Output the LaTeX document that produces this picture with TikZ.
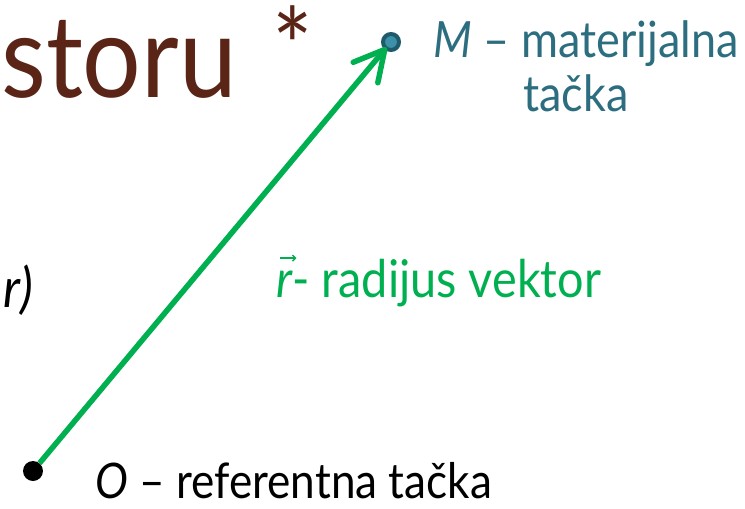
\documentclass[tikz,border=0pt]{standalone}
\usepackage{fontspec}
\setmainfont[FakeStretch=0.9]{Lato}
\usetikzlibrary{arrows.meta}
\definecolor{titlebrown}{HTML}{5A2417}
\definecolor{tealtext}{HTML}{2C6E7F}
\definecolor{vecgreen}{HTML}{00B050}
\definecolor{mfill}{HTML}{3D90AA}
\definecolor{mborder}{HTML}{1F5A6B}
\tikzset{
  lbl/.style={inner sep=0pt, anchor=base west},
  pt/.style={circle, inner sep=0pt},
}
\begin{document}
\begin{tikzpicture}[x=1pt,y=-1pt]
\useasboundingbox (0,0) rectangle (745,509);
\node[lbl, text=titlebrown, font=\fontsize{115}{118}\selectfont] (title) at (1,97) {storu};
\node[lbl, text=titlebrown, font=\fontsize{106}{106}\selectfont] (star) at (272,85) {*};
\node[lbl, anchor=base east, font=\fontsize{55}{57}\selectfont\itshape] (rpar) at (33,307) {r)};
\node[pt, fill=black, minimum size=20pt] (O) at (33,471) {};
\node[pt, fill=mfill, draw=mborder, line width=4pt, minimum size=16pt] (M) at (391,42) {};
\draw[vecgreen, line width=5.5pt, shorten >=-3pt, -{Straight Barb[length=30pt, width=32pt, line width=5.5pt, round]}] (O) -- (M);
\node[lbl, text=tealtext, font=\fontsize{50}{52}\selectfont] (mlabel) at (433,57) {\textit{M} – materijalna};
\node[lbl, anchor=base, text=tealtext, font=\fontsize{50}{52}\selectfont] (mlabel2) at (576,111) {tačka};
\node[lbl, text=vecgreen, font=\fontsize{52}{54}\selectfont\itshape] (rv) at (276,297) {r};
\draw[vecgreen, line width=1.4pt, -{Straight Barb[length=3pt, width=6pt, line width=1.4pt]}] ([shift={(4,-12)}]rv.north west) -- ([shift={(4,-12)}]rv.north east);
\node[lbl, text=vecgreen, font=\fontsize{52}{54}\selectfont] (rlabel) at (rv.base east) {- radijus vektor};
\node[lbl, font=\fontsize{49}{51}\selectfont] (olabel) at (95,498) {\textit{O} – referentna tačka};
\end{tikzpicture}
\end{document}
